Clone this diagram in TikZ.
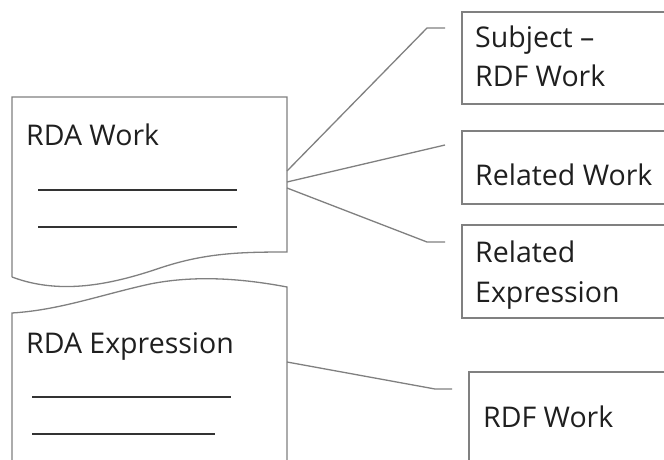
\documentclass[tikz,border=0pt]{standalone}
\usepackage{fontspec}
\setmainfont{Open Sans}
\begin{document}
\begin{tikzpicture}[x=1pt,y=-1pt,
  frame/.style={draw=black!50, line width=1.3pt},
  link/.style={draw=black!50, line width=1.3pt},
  rulel/.style={draw=black!80, line width=1.2pt},
  lbl/.style={font=\fontsize{28.5}{34}\selectfont, text=black!88, anchor=base west, inner sep=0pt}]
\useasboundingbox (0,0) rectangle (664,460);
\clip (0,0) rectangle (664,460);
\fill[white] (0,0) rectangle (664,460);
% RDA Work document
\draw[frame] (12,277) -- (12,97) -- (287,97) -- (287,252)
  .. controls (240,252) and (205,253) .. (160,268)
  .. controls (110,285) and (60,295) .. (12,277);
% RDA Expression document
\draw[frame] (12,480) -- (12,313)
  .. controls (60,310) and (100,295) .. (150,284)
  .. controls (200,274) and (250,280) .. (287,287) -- (287,480);
% inner rules
\draw[rulel] (38,190) -- (237,190);
\draw[rulel] (38,227) -- (237,227);
\draw[rulel] (32,397) -- (231,397);
\draw[rulel] (32,434) -- (215,434);
% right boxes
\draw[frame] (462,12) rectangle (690,104);
\draw[frame] (462,131) rectangle (690,204);
\draw[frame] (462,225) rectangle (690,318);
\draw[frame] (469,372) rectangle (690,480);
% labels
\node[lbl] (work) at (26,145) {RDA Work};
\node[lbl] (expr) at (26,353) {RDA Expression};
\node[lbl] (subj1) at (475,48) {Subject –};
\node[lbl] (subj2) at (475,87) {RDF Work};
\node[lbl] (relw) at (475,185) {Related Work};
\node[lbl] (rele1) at (475,262) {Related};
\node[lbl] (rele2) at (475,302) {Expression};
\node[lbl] (rdfw) at (483,427) {RDF Work};
% connector points
\coordinate (w1) at (287,171);
\coordinate (w2) at (287,182);
\coordinate (w3) at (287,188);
\coordinate (e1) at (287,362);
\coordinate (k1) at (427,28);
\coordinate (s1) at (445,28);
\coordinate (r1) at (445,145);
\coordinate (k3) at (427,242);
\coordinate (s3) at (445,242);
\coordinate (k4) at (435,389);
\coordinate (s4) at (452,389);
\draw[link] (w1) -- (k1) -- (s1);
\draw[link] (w2) -- (r1);
\draw[link] (w3) -- (k3) -- (s3);
\draw[link] (e1) -- (k4) -- (s4);
\end{tikzpicture}
\end{document}
